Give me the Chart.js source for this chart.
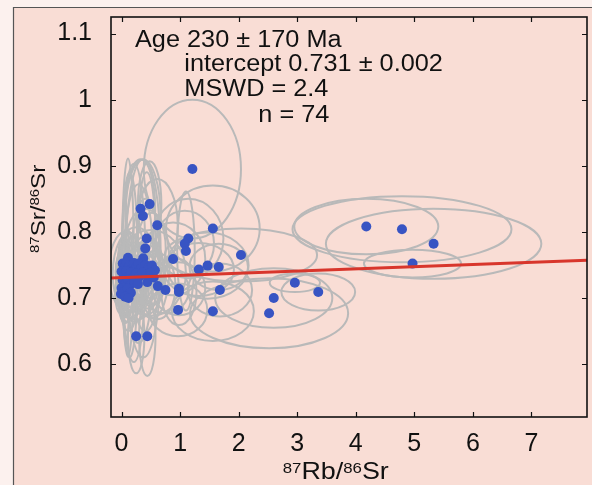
<!DOCTYPE html>
<html><head><meta charset="utf-8">
<script src="https://cdn.jsdelivr.net/npm/chart.js@4"></script>
<style>html,body{margin:0;padding:0;background:#fcf1ee;}canvas{display:block}</style>
</head><body>
<canvas id="c" width="592" height="485"></canvas>
<script>
// 87Rb/86Sr values
const rbSr = [1.21,0.325,0.48,0.365,0.61,1.56,0.43,0.405,1.14,1.08,1.10,0.88,2.04,1.32,1.47,1.66,1.68,0.98,0.98,0.75,0.62,0.44,0.965,1.56,2.52,2.60,0.25,0.44,4.18,4.79,5.33,4.97,2.96,3.36,
  0.11,0.37,0.02,0.06,0.09,0.14,0.18,0.21,0.25,0.29,0.33,0.41,0.46,0.52,0.57,0.00,0.04,0.08,0.12,0.16,0.20,0.25,0.30,0.36,0.43,0.50,0.55,0.02,0.07,0.11,0.15,0.22,0.28,0.00,0.05,0.10,0.16,-0.01,0.06,0.12];
// 87Sr/86Sr values
const srSr = [0.895,0.835,0.842,0.824,0.810,0.805,0.790,0.775,0.790,0.782,0.771,0.759,0.765,0.743,0.749,0.747,0.712,0.714,0.709,0.712,0.718,0.724,0.682,0.680,0.677,0.700,0.642,0.642,0.808,0.804,0.782,0.752,0.723,0.709,
  0.761,0.760,0.752,0.748,0.755,0.750,0.744,0.753,0.747,0.752,0.744,0.750,0.745,0.749,0.742,0.740,0.735,0.741,0.733,0.738,0.730,0.737,0.732,0.738,0.735,0.738,0.731,0.727,0.722,0.728,0.720,0.724,0.721,0.715,0.710,0.714,0.708,0.706,0.702,0.700];
// error ellipse semi-axes (Rb/Sr units, Sr/Sr units)
const rbErr = [0.83,0.25,0.2,0.3,0.35,0.8,0.15,0.35,0.6,0.5,0.15,0.55,1.3,0.6,0.7,0.5,0.55,0.45,0.3,0.4,0.3,0.25,0.5,0.7,1.35,1.0,0.14,0.14,1.23,1.87,1.84,0.83,0.43,0.63,
  0.1,0.3,0.08,0.1,0.1,0.14,0.12,0.2,0.1,0.25,0.15,0.25,0.2,0.3,0.15,0.1,0.12,0.3,0.1,0.2,0.08,0.4,0.15,0.2,0.3,0.6,0.2,0.1,0.15,0.1,0.2,0.25,0.12,0.1,0.08,0.15,0.2,0.1,0.12,0.15];
const srErr = [0.105,0.075,0.065,0.085,0.07,0.065,0.1,0.06,0.06,0.05,0.09,0.055,0.04,0.04,0.05,0.035,0.04,0.04,0.05,0.035,0.05,0.04,0.04,0.045,0.053,0.045,0.056,0.06,0.042,0.05,0.053,0.021,0.014,0.028,
  0.15,0.15,0.04,0.04,0.05,0.14,0.05,0.15,0.03,0.12,0.04,0.10,0.05,0.08,0.03,0.03,0.05,0.06,0.04,0.06,0.03,0.07,0.05,0.04,0.06,0.065,0.04,0.03,0.05,0.03,0.05,0.06,0.04,0.03,0.04,0.05,0.04,0.03,0.04,0.05];
// isochron line
const lineRb = [-0.18, 7.95];
const lineSr = [0.7304, 0.7570];
// ticks
const xTicks = [0,1,2,3,4,5,6,7];
const yTicks = [0.6,0.7,0.8,0.9,1.0,1.1];
const yTickLabels = ['0.6','0.7','0.8','0.9','1','1.1'];
const notes = ['Age 230 \u00b1 170 Ma','intercept 0.731 \u00b1 0.002','MSWD = 2.4','n = 74'];

const FF = '"Liberation Sans", Arial, Helvetica, sans-serif';

const bgPlugin = {
  id:'bg',
  beforeDraw(chart){
    const c = chart.ctx;
    c.save();
    c.fillStyle = '#fcf1ee'; c.fillRect(0,0,chart.width,chart.height);
    c.fillStyle = '#f9ddd5'; c.fillRect(13,7,chart.width-13,chart.height-7);
    c.strokeStyle = '#555'; c.lineWidth = 1.2;
    c.beginPath(); c.moveTo(13.5,chart.height); c.lineTo(13.5,7.5); c.lineTo(chart.width,7.5); c.stroke();
    c.restore();
  }
};

const ellipsePlugin = {
  id:'ell',
  beforeDatasetsDraw(chart){
    const {ctx, chartArea:a, scales:{x,y}} = chart;
    ctx.save();
    ctx.beginPath(); ctx.rect(a.left,a.top,a.right-a.left,a.bottom-a.top); ctx.clip();
    ctx.strokeStyle = '#b9b9b9'; ctx.lineWidth = 2;
    for (let i=0;i<rbSr.length;i++){
      const cx = x.getPixelForValue(rbSr[i]), cy = y.getPixelForValue(srSr[i]);
      const rx = Math.abs(x.getPixelForValue(rbSr[i]+rbErr[i]) - cx);
      const ry = Math.abs(y.getPixelForValue(srSr[i]+srErr[i]) - cy);
      ctx.beginPath(); ctx.ellipse(cx,cy,rx,ry,0,0,Math.PI*2); ctx.stroke();
    }
    ctx.restore();
  }
};

function drawSupText(ctx, parts, big, small){
  let xpos = 0;
  const capBig = big*0.716, capSmall = small*0.716;
  for (const [t,sup] of parts){
    ctx.font = (sup?small:big)+'px '+FF;
    const yb = sup ? -(capBig - capSmall) : 0;
    ctx.fillText(t, xpos, yb);
    xpos += ctx.measureText(t).width;
  }
}

const framePlugin = {
  id:'frame',
  afterDraw(chart){
    const {ctx, chartArea:a, scales:{x,y}} = chart;
    ctx.save();
    ctx.strokeStyle = '#111'; ctx.lineWidth = 1.6;
    ctx.strokeRect(a.left, a.top, a.right-a.left, a.bottom-a.top);
    ctx.lineWidth = 1.2;
    ctx.beginPath();
    for (const v of xTicks){
      const px = Math.round(x.getPixelForValue(v))+0.5;
      ctx.moveTo(px,a.bottom); ctx.lineTo(px,a.bottom-5);
      ctx.moveTo(px,a.top); ctx.lineTo(px,a.top+5);
    }
    for (const v of yTicks){
      const py = Math.round(y.getPixelForValue(v))+0.5;
      ctx.moveTo(a.left,py); ctx.lineTo(a.left+5,py);
      ctx.moveTo(a.right,py); ctx.lineTo(a.right-5,py);
    }
    ctx.stroke();

    ctx.fillStyle = '#111';
    ctx.textBaseline = 'alphabetic'; ctx.textAlign = 'left';
    const pos = [[135,47.3],[184.3,71],[184.3,96],[258.3,121.7]];
    ctx.font = '23px '+FF;
    notes.forEach((t,i)=>{
      ctx.save(); ctx.translate(pos[i][0],pos[i][1]); ctx.scale(1.1,1);
      ctx.fillText(t,0,0); ctx.restore();
    });
    ctx.save(); ctx.translate(282.7,479.3); ctx.scale(1.12,1);
    drawSupText(ctx, [['87',true],['Rb/',false],['86',true],['Sr',false]], 24, 15);
    ctx.restore();
    ctx.save(); ctx.translate(45,253); ctx.rotate(-Math.PI/2); ctx.scale(1.15,1);
    drawSupText(ctx, [['87',true],['Sr/',false],['86',true],['Sr',false]], 21, 13);
    ctx.restore();
    ctx.restore();
  }
};

new Chart(document.getElementById('c'), {
  type:'scatter',
  data:{
    datasets:[
      { label:'isochron', type:'line', data: lineRb.map((v,i)=>({x:v,y:lineSr[i]})),
        borderColor:'#d8362c', borderWidth:3, pointRadius:0, fill:false, order:0 },
      { label:'samples', data: rbSr.map((v,i)=>({x:v,y:srSr[i]})),
        backgroundColor:'#3854c3', borderWidth:0, pointRadius:5, order:1 }
    ]
  },
  options:{
    responsive:false, animation:false, devicePixelRatio:1,
    layout:{padding:{top:17,right:5,left:0,bottom:0}},
    plugins:{legend:{display:false}, tooltip:{enabled:false}},
    scales:{
      x:{ type:'linear', min:-0.18, max:7.95,
        afterBuildTicks(s){ s.ticks = xTicks.map(v=>({value:v})); },
        afterFit(s){ s.height = 68; s.paddingLeft = 0; s.paddingRight = 0; },
        grid:{display:false}, border:{display:false},
        ticks:{ font:{family:FF,size:25}, color:'#111', padding:4, maxRotation:0, autoSkip:false,
          callback:(v)=>String(v) }
      },
      y:{ type:'linear', min:0.52, max:1.125,
        afterBuildTicks(s){ s.ticks = yTicks.map(v=>({value:v})); },
        afterFit(s){ s.width = 111; s.paddingTop = 0; s.paddingBottom = 0; },
        grid:{display:false}, border:{display:false},
        ticks:{ font:{family:FF,size:25}, color:'#111', padding:11, autoSkip:false,
          callback:(v)=>{ const i = yTicks.findIndex(t=>Math.abs(t-v)<1e-9); return i>=0?yTickLabels[i]:''; } }
      }
    }
  },
  plugins:[bgPlugin, ellipsePlugin, framePlugin]
});
</script>
</body></html>
